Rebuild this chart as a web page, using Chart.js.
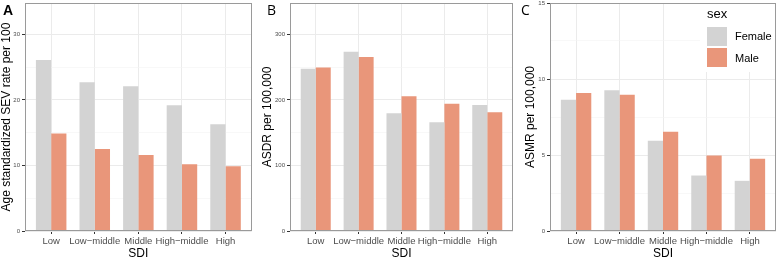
<!DOCTYPE html>
<html>
<head>
<meta charset="utf-8">
<script src="https://cdn.jsdelivr.net/npm/chart.js@4.4.1/dist/chart.umd.min.js"></script>
<style>
  body { margin: 0; background: #fff; }
  canvas { position: absolute; top: 0; }
</style>
</head>
<body>
<canvas id="chartA" width="255" height="260" style="left:0px"></canvas>
<canvas id="chartB" width="260" height="260" style="left:255px"></canvas>
<canvas id="chartC" width="262" height="260" style="left:515px"></canvas>
<script>
// SDI groups on the x axis
const categories = ['Low', 'Low−middle', 'Middle', 'High−middle', 'High'];
const sexes = ['Female', 'Male'];

// panel A: age standardized SEV rate per 100
const sevFemale = [26.1, 22.7, 22.1, 19.2, 16.3];
const sevMale = [14.9, 12.5, 11.6, 10.2, 9.9];
const sevTicks = [0, 10, 20, 30];

// panel B: ASDR per 100,000
const asdrFemale = [247.6, 273.5, 179.6, 165.9, 192.4];
const asdrMale = [249.6, 265.4, 205.5, 194.4, 181.1];
const asdrTicks = [0, 100, 200, 300];

// panel C: ASMR per 100,000
const asmrFemale = [8.63, 9.26, 5.94, 3.65, 3.30];
const asmrMale = [9.08, 8.97, 6.53, 4.96, 4.76];
const asmrTicks = [0, 5, 10, 15];

const colors = ['#D3D3D3', '#E9967A'];
const FONT = "'Liberation Sans', Arial, sans-serif";

// border box, panel letter and (for C) the sex legend
const panelPlugin = {
  id: 'panel',
  afterDraw(chart, args, o) {
    const ctx = chart.ctx;
    const a = chart.chartArea;
    ctx.save();
    if (o.legend) {
      const lx = o.legend.x;
      ctx.fillStyle = '#fff';
      ctx.fillRect(lx - 7, a.top + 1, a.right - lx + 6, 68);
      ctx.fillStyle = '#000';
      ctx.font = '13px ' + FONT;
      ctx.textBaseline = 'alphabetic';
      ctx.fillText('sex', lx, 18);
      ctx.font = '11px ' + FONT;
      sexes.forEach((s, i) => {
        ctx.fillStyle = colors[i];
        ctx.fillRect(lx, 27 + i * 21, 20, 19);
        ctx.fillStyle = '#000';
        ctx.fillText(s, lx + 28, 40 + i * 21.5);
      });
    }
    ctx.strokeStyle = '#9a9a9a';
    ctx.lineWidth = 1;
    ctx.strokeRect(Math.round(a.left) + 0.5, Math.round(a.top) + 0.5,
      Math.round(a.right - a.left) - 1, Math.round(a.bottom - a.top) - 1);
    ctx.fillStyle = '#000';
    ctx.font = o.letterFont;
    ctx.textBaseline = 'alphabetic';
    ctx.fillText(o.letter, o.letterX, 15);
    ctx.restore();
  }
};

function makePanel(id, p) {
  const majors = p.ticks;
  const half = (majors[1] - majors[0]) / 2;
  const gridValues = [];
  for (let v = 0; v <= p.yMax + 1e-9; v += half) gridValues.push(+v.toFixed(4));
  const isMajor = v => majors.some(m => Math.abs(m - v) < 1e-6);

  return new Chart(document.getElementById(id).getContext('2d'), {
    type: 'bar',
    data: {
      datasets: [
        {
          label: sexes[0],
          data: p.female.map((v, i) => ({ x: i, y: v })),
          backgroundColor: colors[0],
          borderWidth: 0,
          categoryPercentage: 0.7,
          barPercentage: 1.0
        },
        {
          label: sexes[1],
          data: p.male.map((v, i) => ({ x: i, y: v })),
          backgroundColor: colors[1],
          borderWidth: 0,
          categoryPercentage: 0.7,
          barPercentage: 1.0
        }
      ]
    },
    options: {
      responsive: false,
      animation: false,
      layout: { padding: { left: 0, top: 3, right: p.padRight, bottom: 0 } },
      plugins: {
        legend: { display: false },
        tooltip: { enabled: false },
        panel: { letter: p.letter, letterX: p.letterX, letterFont: p.letterFont, legend: p.legend }
      },
      scales: {
        x: {
          type: 'linear',
          min: -0.6,
          max: 4.6,
          offset: false,
          afterBuildTicks: s => { s.ticks = categories.map((c, i) => ({ value: i })); },
          afterFit: s => { s.height = 29; s.paddingLeft = 0; s.paddingRight = 0; },
          border: { display: false },
          grid: { offset: false, color: '#ebebeb', lineWidth: 1, tickColor: '#333', tickLength: 3 },
          ticks: {
            callback: v => categories[v],
            font: { size: 9.5, family: FONT },
            color: '#4d4d4d',
            padding: 1.5,
            maxRotation: 0,
            autoSkip: false
          },
          title: {
            display: true,
            text: 'SDI',
            font: { size: 12, family: FONT, lineHeight: 1 },
            color: '#000',
            padding: 0
          }
        },
        y: {
          min: 0,
          max: p.yMax,
          afterBuildTicks: s => { s.ticks = gridValues.map(v => ({ value: v })); },
          afterFit: s => { s.width = p.axisWidth; s.paddingTop = 0; s.paddingBottom = 0; },
          border: { display: false },
          grid: {
            color: c => isMajor(c.tick.value) ? '#ebebeb' : '#f3f3f3',
            lineWidth: c => isMajor(c.tick.value) ? 1 : 0.6,
            tickColor: c => isMajor(c.tick.value) ? '#333' : 'rgba(0,0,0,0)',
            tickLength: 3
          },
          ticks: {
            callback: v => isMajor(v) ? v : '',
            font: { size: 6, family: FONT, lineHeight: 1 },
            color: '#4d4d4d',
            padding: 2,
            autoSkip: false
          },
          title: {
            display: true,
            text: p.yTitle,
            font: { size: 12, family: FONT, lineHeight: 1 },
            color: '#000',
            padding: { top: p.titlePad, bottom: 0 }
          }
        }
      }
    },
    plugins: [panelPlugin]
  });
}

makePanel('chartA', {
  letter: 'A', letterX: 3, letterFont: "bold 14px " + FONT,
  yTitle: 'Age standardized SEV rate per 100',
  female: sevFemale, male: sevMale, ticks: sevTicks,
  yMax: 34.8, axisWidth: 25, padRight: 3.3, titlePad: 1
});

makePanel('chartB', {
  letter: 'B', letterX: 12, letterFont: "14px 'Open Sans', sans-serif",
  yTitle: 'ASDR per 100,000',
  female: asdrFemale, male: asdrMale, ticks: asdrTicks,
  yMax: 348, axisWidth: 35, padRight: 2, titlePad: 6.5
});

makePanel('chartC', {
  letter: 'C', letterX: 6, letterFont: "14px 'Open Sans', sans-serif",
  yTitle: 'ASMR per 100,000',
  female: asmrFemale, male: asmrMale, ticks: asmrTicks,
  yMax: 15, axisWidth: 35, padRight: 1, titlePad: 10,
  legend: { x: 192 }
});
</script>
</body>
</html>
